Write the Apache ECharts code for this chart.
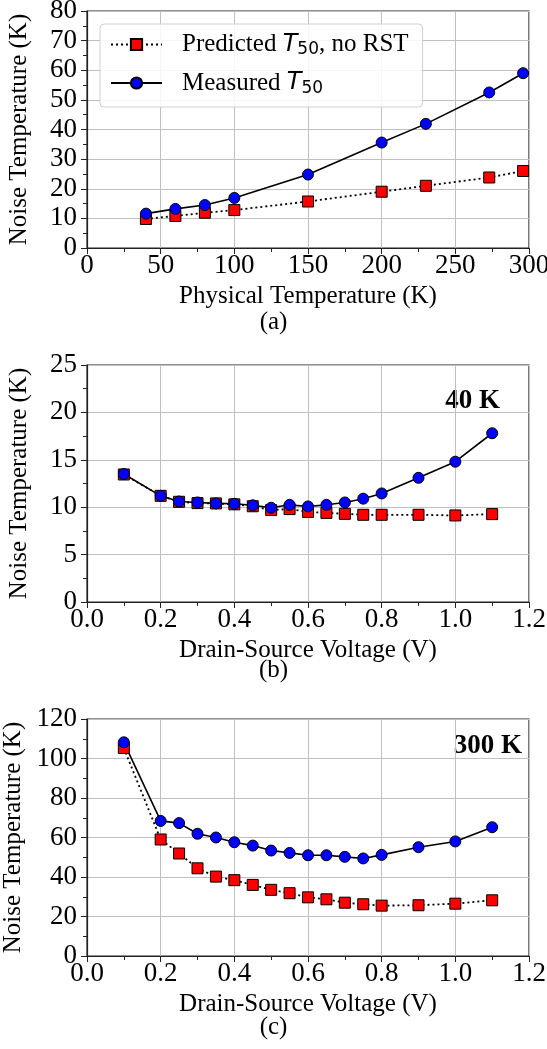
<!DOCTYPE html>
<html>
<head>
<meta charset="utf-8">
<script src="https://cdn.jsdelivr.net/npm/echarts@6/dist/echarts.min.js"></script>
<style>
  html, body { margin: 0; padding: 0; background: #fff; }
  #chart { width: 547px; height: 1049px; }
</style>
</head>
<body>
<div id="chart"></div>
<script>
// (a) noise temperature vs physical temperature
const physTemp = [40, 60, 80, 100, 150, 200, 230, 273, 296]
const predictedA = [9.8, 10.8, 11.9, 12.8, 15.7, 19.0, 21.0, 23.8, 26.0]
const measuredA = [11.6, 13.2, 14.5, 16.9, 24.8, 35.6, 41.9, 52.5, 59.0]

// (b) 40 K and (c) 300 K, vs drain-source voltage
const vds = [0.1, 0.2, 0.25, 0.3, 0.35, 0.4, 0.45, 0.5, 0.55, 0.6, 0.65, 0.7, 0.75, 0.8, 0.9, 1.0, 1.1]
const predictedB = [13.45, 11.2, 10.57, 10.43, 10.4, 10.3, 10.1, 9.7, 9.8, 9.5, 9.4, 9.3, 9.2, 9.2, 9.2, 9.13, 9.27]
const measuredB = [13.5, 11.2, 10.6, 10.5, 10.4, 10.36, 10.2, 9.94, 10.25, 10.08, 10.25, 10.5, 10.9, 11.45, 13.1, 14.8, 17.8]
const predictedC = [105.3, 59.0, 51.9, 44.4, 40.2, 38.4, 36.0, 33.5, 31.8, 29.7, 28.7, 27.0, 26.2, 25.5, 25.7, 26.5, 28.2]
const measuredC = [108.2, 68.4, 67.3, 61.9, 60.0, 57.6, 55.9, 53.4, 52.2, 51.0, 51.0, 50.2, 49.4, 51.2, 55.1, 58.0, 65.2]

const serif = 'Liberation Serif'
const fs = 25      // axis titles, captions
const tickFs = 27  // tick labels

function zip(xs, ys) {
  return xs.map((x, i) => [x, ys[i]])
}

function xAxisOf(idx, name, max, interval, fmt) {
  return {
    gridIndex: idx, type: 'value', min: 0, max: max, interval: interval,
    name: name, nameLocation: 'middle', nameGap: 36,
    nameTextStyle: { fontFamily: serif, fontSize: fs, color: '#000' },
    axisLine: { onZero: false, lineStyle: { color: '#222', width: 1.2 } },
    axisTick: { show: true, length: 6, lineStyle: { color: '#222' } },
    minorTick: { show: true, splitNumber: 2, length: 4, lineStyle: { color: '#222' } },
    axisLabel: { fontFamily: serif, fontSize: tickFs, color: '#000', margin: 4, formatter: fmt },
    splitLine: { show: true, lineStyle: { color: '#c0c0c0', width: 1 } }
  }
}

function yAxisOf(idx, max, interval) {
  return {
    gridIndex: idx, type: 'value', min: 0, max: max, interval: interval,
    name: 'Noise Temperature (K)', nameLocation: 'middle', nameGap: 55,
    nameTextStyle: { fontFamily: serif, fontSize: fs, color: '#000' },
    axisLine: { show: true, onZero: false, lineStyle: { color: '#222', width: 1.2 } },
    axisTick: { show: true, length: 6, lineStyle: { color: '#222' } },
    minorTick: { show: true, splitNumber: 2, length: 4, lineStyle: { color: '#222' } },
    axisLabel: { fontFamily: serif, fontSize: tickFs, color: '#000', margin: 10 },
    splitLine: { show: true, lineStyle: { color: '#c0c0c0', width: 1 } }
  }
}

function predictedSeries(idx, data) {
  return {
    name: 'Predicted', type: 'line', xAxisIndex: idx, yAxisIndex: idx,
    data: data, symbol: 'rect', symbolSize: 11,
    lineStyle: { color: '#000', width: 1.8, type: [2, 3] },
    itemStyle: { color: '#ff0000', borderColor: '#000', borderWidth: 1 }
  }
}

function measuredSeries(idx, data) {
  return {
    name: 'Measured', type: 'line', xAxisIndex: idx, yAxisIndex: idx,
    data: data, symbol: 'circle', symbolSize: 11,
    lineStyle: { color: '#000', width: 1.6 },
    itemStyle: { color: '#0000ff', borderColor: '#000', borderWidth: 1 }
  }
}

const chart = echarts.init(document.getElementById('chart'))
const gridStyle = {
  left: 87, width: 442, height: 237, show: true, containLabel: false, outerBoundsMode: 'none',
  borderColor: '#222', borderWidth: 1.2, backgroundColor: 'transparent'
}
const voltFmt = v => v.toFixed(1)

chart.setOption({
  animation: false,
  backgroundColor: '#fff',
  grid: [
    Object.assign({ top: 11 }, gridStyle),
    Object.assign({ top: 365 }, gridStyle),
    Object.assign({ top: 719 }, gridStyle)
  ],
  xAxis: [
    xAxisOf(0, 'Physical Temperature (K)', 300, 50),
    xAxisOf(1, 'Drain-Source Voltage (V)', 1.2, 0.2, voltFmt),
    xAxisOf(2, 'Drain-Source Voltage (V)', 1.2, 0.2, voltFmt)
  ],
  yAxis: [
    yAxisOf(0, 80, 10),
    yAxisOf(1, 25, 5),
    yAxisOf(2, 120, 20)
  ],
  legend: {
    data: ['Predicted', 'Measured'],
    orient: 'vertical', left: 100, top: 24,
    padding: [8, 14, 10, 10], itemGap: 12,
    itemWidth: 51, itemHeight: 14,
    backgroundColor: 'rgba(255,255,255,0.85)',
    borderColor: '#d0d0d0', borderWidth: 1, borderRadius: 4,
    formatter: name => name === 'Predicted'
      ? '{p|Predicted }{t|T}{s|50}{a|, no RST}'
      : '{p|Measured }{t|T}{s|50}',
    textStyle: {
      rich: {
        p: { fontFamily: serif, fontSize: 25, color: '#000', lineHeight: 28, padding: [0, 0, 0, 15] },
        a: { fontFamily: serif, fontSize: 25, color: '#000', lineHeight: 28 },
        t: { fontFamily: 'DejaVu Sans', fontStyle: 'italic', fontSize: 24, color: '#000', lineHeight: 28 },
        s: { fontFamily: 'DejaVu Sans', fontSize: 17, color: '#000', lineHeight: 18, verticalAlign: 'bottom' }
      }
    }
  },
  graphic: [
    { type: 'text', left: 'center', top: 310, style: { text: '(a)', font: fs + 'px ' + serif, fill: '#000' } },
    { type: 'text', left: 'center', top: 658, style: { text: '(b)', font: fs + 'px ' + serif, fill: '#000' } },
    { type: 'text', left: 'center', top: 1015, style: { text: '(c)', font: fs + 'px ' + serif, fill: '#000' } },
    { type: 'text', right: 47, top: 388, style: { text: '40 K', font: 'bold 27px ' + serif, fill: '#000' } },
    { type: 'text', right: 25, top: 733, style: { text: '300 K', font: 'bold 27px ' + serif, fill: '#000' } }
  ],
  series: [
    predictedSeries(0, zip(physTemp, predictedA)),
    measuredSeries(0, zip(physTemp, measuredA)),
    predictedSeries(1, zip(vds, predictedB)),
    measuredSeries(1, zip(vds, measuredB)),
    predictedSeries(2, zip(vds, predictedC)),
    measuredSeries(2, zip(vds, measuredC))
  ]
})
</script>
</body>
</html>
